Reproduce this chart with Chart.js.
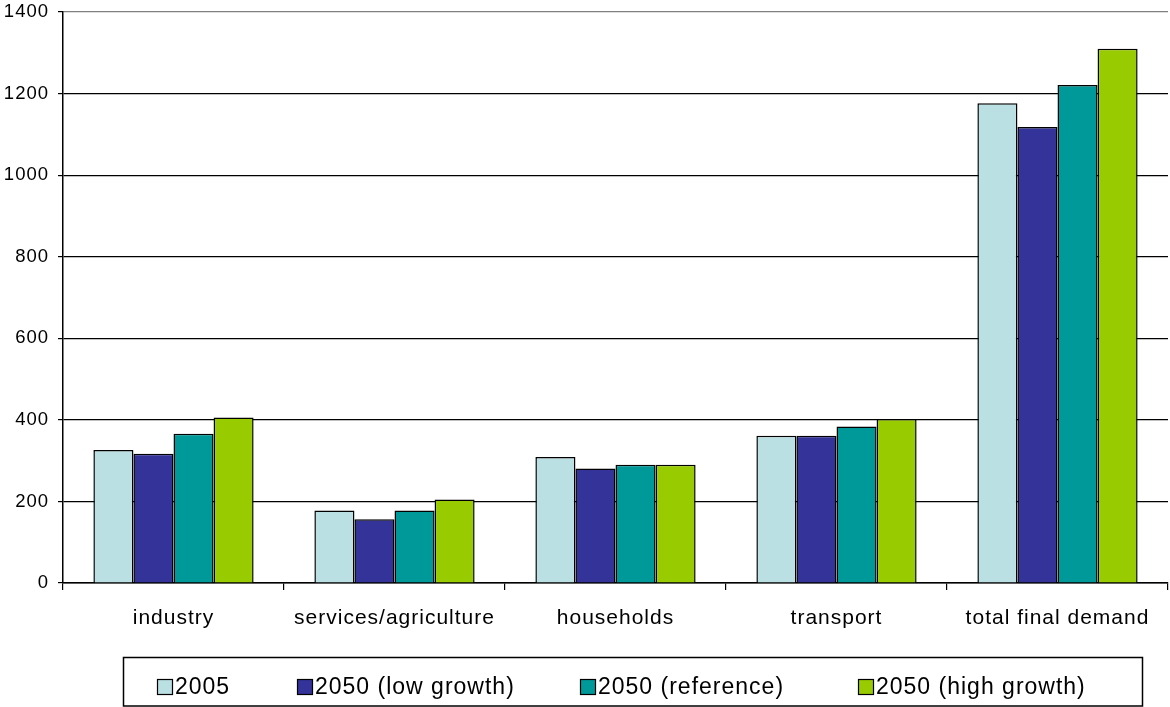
<!DOCTYPE html>
<html>
<head>
<meta charset="utf-8">
<script src="https://cdn.jsdelivr.net/npm/chart.js@4"></script>
<style>
  html, body { margin: 0; padding: 0; background: #fff; }
  #wrap { width: 1170px; height: 707px; position: relative; }
</style>
</head>
<body>
<div id="wrap"><canvas id="c" width="1170" height="707"></canvas></div>
<script>
// Final energy demand by sector
const categories = ['industry', 'services/agriculture', 'households', 'transport', 'total final demand'];
const seriesNames = ['2005', '2050 (low growth)', '2050 (reference)', '2050 (high growth)'];
const values2005 = [326, 178, 309, 361, 1176];
const valuesLow  = [317, 156, 281, 361, 1118];
const valuesRef  = [366, 178, 290, 384, 1221];
const valuesHigh = [406, 205, 290, 402, 1310];
const yTicks = [0, 200, 400, 600, 800, 1000, 1200, 1400];
const seriesColors = ['#BBE0E3', '#333399', '#009999', '#99CC00'];

const FONT = "'Liberation Sans', Arial, sans-serif";

const seriesValues = [values2005, valuesLow, valuesRef, valuesHigh];

// Slightly wider text tracking for axis labels
const tracking = {
  id: 'tracking',
  beforeLayout(chart) { chart.ctx.letterSpacing = '1px'; },
  beforeDraw(chart) { chart.ctx.letterSpacing = '1px'; }
};

// Boxed legend row under the axis labels
const legendStarts = [157, 297, 580, 858];
const boxedLegend = {
  id: 'boxedLegend',
  afterDraw(chart) {
    const ctx = chart.ctx;
    ctx.save();
    ctx.letterSpacing = '1px';
    ctx.strokeStyle = '#000';
    ctx.lineWidth = 1.5;
    ctx.strokeRect(123.5, 657.5, 1019, 48.5);
    ctx.font = '23px ' + FONT;
    ctx.textBaseline = 'middle';
    ctx.textAlign = 'left';
    const cy = 687;
    const sq = 16;
    chart.data.datasets.forEach((ds, i) => {
      const x = legendStarts[i];
      ctx.fillStyle = ds.backgroundColor;
      ctx.fillRect(x, cy - sq / 2, sq, sq);
      ctx.lineWidth = 1.2;
      ctx.strokeStyle = '#000';
      ctx.strokeRect(x + 0.5, cy - sq / 2 + 0.5, sq - 1, sq - 1);
      ctx.fillStyle = '#000';
      ctx.fillText(ds.label, x + sq + 2, cy + 1);
    });
    ctx.restore();
  }
};

new Chart(document.getElementById('c'), {
  type: 'bar',
  data: {
    labels: categories,
    datasets: seriesNames.map((name, i) => ({
      label: name,
      data: seriesValues[i],
      backgroundColor: seriesColors[i],
      borderColor: '#000',
      borderWidth: 1.5,
      barPercentage: 1,
      categoryPercentage: 0.725
    }))
  },
  options: {
    responsive: false,
    animation: false,
    devicePixelRatio: 1,
    layout: { padding: { top: 12, right: 2, left: 0, bottom: 0 } },
    plugins: {
      legend: { display: false },
      tooltip: { enabled: false }
    },
    scales: {
      x: {
        afterFit(s) { s.height = 124; s.paddingLeft = 0; s.paddingRight = 0; },
        grid: {
          offset: true,
          drawOnChartArea: true,
          color: (c) => (c.index === categories.length ? '#808080' : 'rgba(0,0,0,0)'),
          tickColor: '#000',
          tickLength: 7,
          lineWidth: 1.2
        },
        border: { display: true, color: '#000', width: 1.5 },
        ticks: {
          color: '#000',
          font: { family: FONT, size: 21 },
          padding: 16,
          maxRotation: 0,
          autoSkip: false
        }
      },
      y: {
        min: 0,
        max: 1400,
        afterFit(s) { s.width = 63; s.paddingTop = 0; s.paddingBottom = 0; },
        afterBuildTicks(s) { s.ticks = yTicks.map((v) => ({ value: v })); },
        grid: {
          color: (c) => (c.tick && c.tick.value === 1400 ? '#808080' : '#000'),
          tickColor: '#000',
          tickLength: 5,
          lineWidth: 1.2
        },
        border: { display: true, color: '#000', width: 1.5 },
        ticks: {
          color: '#000',
          font: { family: FONT, size: 18.5 },
          padding: 9,
          callback: (v) => String(v)
        }
      }
    }
  },
  plugins: [tracking, boxedLegend]
});
</script>
</body>
</html>
